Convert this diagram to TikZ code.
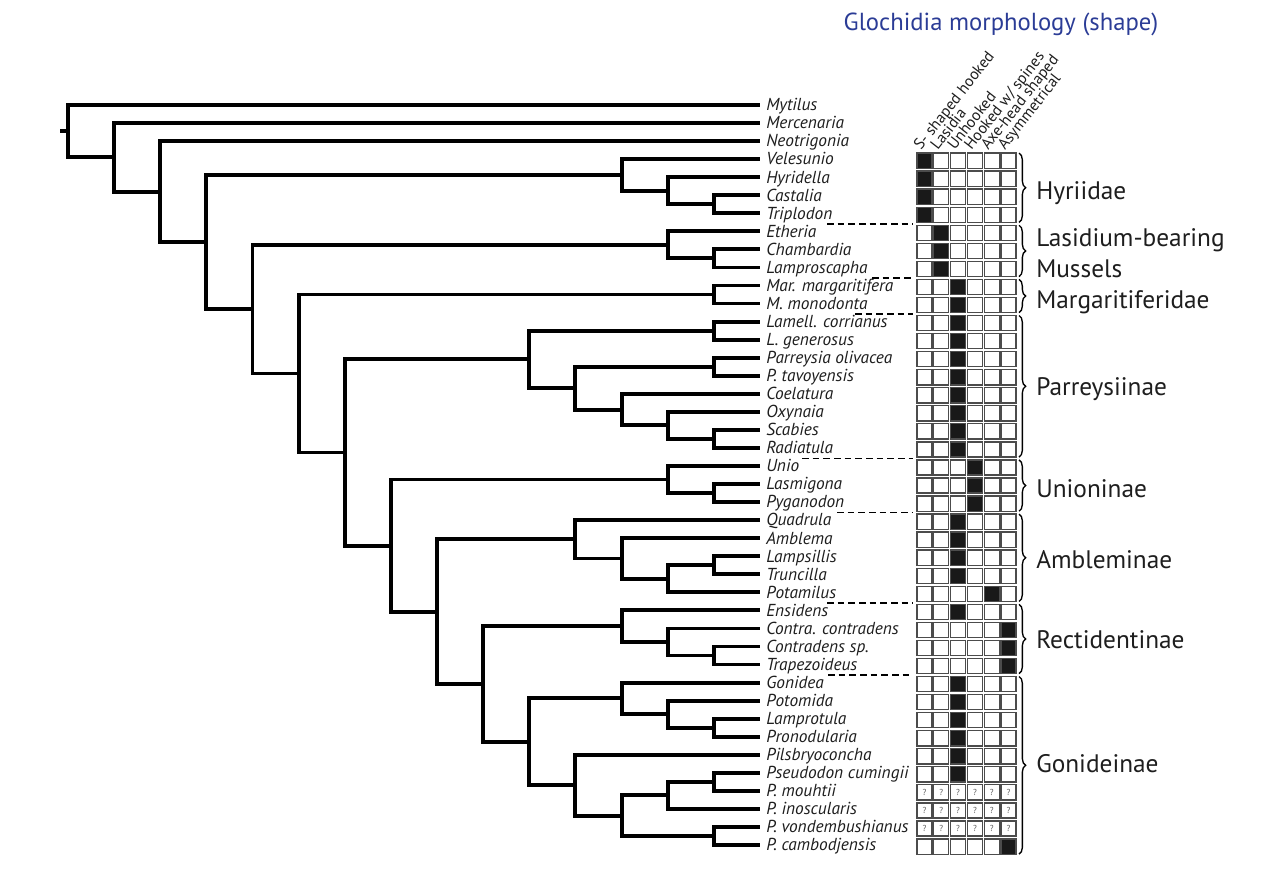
\documentclass[tikz,border=0pt]{standalone}
\usepackage{fontspec}
\setmainfont{PT Sans}
\usetikzlibrary{decorations.pathreplacing}
\definecolor{titleblue}{RGB}{43,60,150}
\definecolor{ink}{RGB}{30,30,30}
\begin{document}
\begin{tikzpicture}[x=0.75pt,y=-0.75pt,
  branch/.style={line width=2.9pt, line join=miter, draw=black},
  taxon/.style={font=\fontsize{13}{15}\selectfont\itshape, text=ink, anchor=base west, inner sep=0pt},
  grp/.style={font=\fontsize{19}{23.25}\selectfont, text=ink, anchor=base west, inner sep=0pt, align=left},
  hdr/.style={font=\fontsize{11.8}{12}\selectfont, text=ink, anchor=base west, inner sep=0pt, rotate=52},
  cell/.style={draw=black!70, line width=1pt},
  fcell/.style={cell, fill=black!90},
  qm/.style={font=\fontsize{6.5}{6.5}\selectfont, text=black!65, inner sep=0pt},
  sep/.style={line width=1.2pt, dash pattern=on 5pt off 3pt},
  grpbrace/.style={line width=1pt, decorate, decoration={brace, amplitude=5pt}},
]
\useasboundingbox (0,0) rectangle (1280,886);

% title
\node[font=\fontsize{18.5}{22}\selectfont, text=titleblue] (title) at (1001,24) {Glochidia morphology (shape)};

% tips and labels
\foreach \i/\nm in {0/Mytilus,1/Mercenaria,2/Neotrigonia,3/Velesunio,4/Hyridella,5/Castalia,6/Triplodon,7/Etheria,8/Chambardia,9/Lamproscapha,10/Mar. margaritifera,11/M. monodonta,12/Lamell. corrianus,13/L. generosus,14/Parreysia olivacea,15/P. tavoyensis,16/Coelatura,17/Oxynaia,18/Scabies,19/Radiatula,20/Unio,21/Lasmigona,22/Pyganodon,23/Quadrula,24/Amblema,25/Lampsillis,26/Truncilla,27/Potamilus,28/Ensidens,29/Contra. contradens,30/Contradens sp.,31/Trapezoideus,32/Gonidea,33/Potomida,34/Lamprotula,35/Pronodularia,36/Pilsbryoconcha,37/Pseudodon cumingii,38/P. mouhtii,39/P. inoscularis,40/P. vondembushianus,41/P. cambodjensis}{
  \coordinate (t\i) at (760,{105+18.05*\i});
  \node[taxon] (L\i) at (766,{105+18.05*\i+5.8}) {\nm};
}

% internal nodes
\coordinate (rs) at (60,{105+18.05*1.449});
\coordinate (root) at (68,{105+18.05*1.449});
\coordinate (n1) at (114.1,{105+18.05*2.898});
\coordinate (n2) at (160.3,{105+18.05*4.797});
\coordinate (nA) at (206.4,{105+18.05*7.594});
\coordinate (h1) at (621.6,{105+18.05*3.875});
\coordinate (h2) at (667.7,{105+18.05*4.75});
\coordinate (h3) at (713.8,{105+18.05*5.5});
\coordinate (nB) at (252.5,{105+18.05*11.313});
\coordinate (e1) at (667.7,{105+18.05*7.75});
\coordinate (e2) at (713.8,{105+18.05*8.5});
\coordinate (nC) at (298.7,{105+18.05*14.876});
\coordinate (m1) at (713.8,{105+18.05*10.5});
\coordinate (nD) at (344.8,{105+18.05*19.252});
\coordinate (p1) at (529.3,{105+18.05*14.094});
\coordinate (pa) at (713.8,{105+18.05*12.5});
\coordinate (pf) at (575.4,{105+18.05*15.6875});
\coordinate (pb) at (713.8,{105+18.05*14.5});
\coordinate (pc) at (621.6,{105+18.05*16.875});
\coordinate (pd) at (667.7,{105+18.05*17.75});
\coordinate (pe) at (713.8,{105+18.05*18.5});
\coordinate (nE) at (390.9,{105+18.05*24.41});
\coordinate (u1) at (667.7,{105+18.05*20.75});
\coordinate (u2) at (713.8,{105+18.05*21.5});
\coordinate (nF) at (437.0,{105+18.05*28.070});
\coordinate (a1) at (575.4,{105+18.05*24.0625});
\coordinate (a2) at (621.6,{105+18.05*25.125});
\coordinate (a3) at (667.7,{105+18.05*26.25});
\coordinate (a4) at (713.8,{105+18.05*25.5});
\coordinate (nG) at (483.2,{105+18.05*32.078});
\coordinate (r1) at (621.6,{105+18.05*28.875});
\coordinate (r2) at (667.7,{105+18.05*29.75});
\coordinate (r3) at (713.8,{105+18.05*30.5});
\coordinate (nH) at (529.3,{105+18.05*35.281});
\coordinate (g1) at (621.6,{105+18.05*32.875});
\coordinate (g2) at (667.7,{105+18.05*33.75});
\coordinate (g3) at (713.8,{105+18.05*34.5});
\coordinate (s1) at (575.4,{105+18.05*37.6875});
\coordinate (s2) at (621.6,{105+18.05*39.375});
\coordinate (s3) at (667.7,{105+18.05*38.25});
\coordinate (s4) at (713.8,{105+18.05*37.5});
\coordinate (s5) at (713.8,{105+18.05*40.5});

% branches
\draw[branch] (rs) -- (root);
\foreach \p/\c in {root/t0,root/n1,n1/t1,n1/n2,n2/t2,n2/nA,nA/h1,nA/nB,h1/t3,h1/h2,h2/t4,h2/h3,h3/t5,h3/t6,nB/e1,nB/nC,e1/t7,e1/e2,e2/t8,e2/t9,nC/m1,nC/nD,m1/t10,m1/t11,nD/p1,nD/nE,p1/pa,p1/pf,pa/t12,pa/t13,pf/pb,pf/pc,pb/t14,pb/t15,pc/t16,pc/pd,pd/t17,pd/pe,pe/t18,pe/t19,nE/u1,nE/nF,u1/t20,u1/u2,u2/t21,u2/t22,nF/a1,nF/nG,a1/t23,a1/a2,a2/t24,a2/a3,a3/a4,a3/t27,a4/t25,a4/t26,nG/r1,nG/nH,r1/t28,r1/r2,r2/t29,r2/r3,r3/t30,r3/t31,nH/g1,nH/s1,g1/t32,g1/g2,g2/t33,g2/g3,g3/t34,g3/t35,s1/t36,s1/s2,s2/s3,s2/s5,s3/s4,s3/t39,s4/t37,s4/t38,s5/t40,s5/t41}{
  \draw[branch] (\p) |- (\c);
}

% column headers
\foreach \c/\txt in {1/{S- shaped hooked},2/{Lasidia},3/{Unhooked},4/{Hooked w/ spines},5/{Axe-head shaped},6/{Asymmetrical}}{
  \node[hdr] (hd\c) at ({921+16.8*(\c-1)},151) {\txt};
}

% character matrix
\foreach \r/\v in {3/1,4/1,5/1,6/1,7/2,8/2,9/2,10/3,11/3,12/3,13/3,14/3,15/3,16/3,17/3,18/3,19/3,20/4,21/4,22/4,23/3,24/3,25/3,26/3,27/5,28/3,29/6,30/6,31/6,32/3,33/3,34/3,35/3,36/3,37/3,38/0,39/0,40/0,41/6}{
  \foreach \c in {1,...,6}{
    \pgfmathsetmacro\xl{917+16.8*(\c-1)}
    \pgfmathsetmacro\yc{105+18.05*\r+1.5}
    \ifnum\c=\v
      \draw[fcell] ({\xl},{\yc-7.6}) rectangle ++(15,15.2);
    \else
      \draw[cell] ({\xl},{\yc-7.6}) rectangle ++(15,15.2);
    \fi
    \ifnum\v=0
      \node[qm] (q\r-\c) at ({\xl+7.5},{\yc}) {?};
    \fi
  }
}

% dashed separators
\foreach \r/\xs in {6/827,9/872,11/855,19/802,22/837,27/827,31/828}{
  \draw[sep] (\xs,{105+18.05*(\r+0.5)+1.5}) -- (913,{105+18.05*(\r+0.5)+1.5});
}

% braces
\foreach \a/\b in {3/6,7/9,10/11,12/19,20/22,23/27,28/31,32/41}{
  \draw[grpbrace] (1019,{106.5+18.05*\a-7.6}) -- (1019,{106.5+18.05*\b+7.6});
}

% group labels
\node[grp] (gHyr) at (1036,199) {Hyriidae};
\node[grp, anchor=west] (gLas) at (1036,253) {Lasidium-bearing\\Mussels};
\node[grp] (gMar) at (1036,308) {Margaritiferidae};
\node[grp] (gPar) at (1036,395) {Parreysiinae};
\node[grp] (gUni) at (1036,497) {Unioninae};
\node[grp] (gAmb) at (1036,568) {Ambleminae};
\node[grp] (gRec) at (1036,648) {Rectidentinae};
\node[grp] (gGon) at (1036,772) {Gonideinae};
\end{tikzpicture}
\end{document}
